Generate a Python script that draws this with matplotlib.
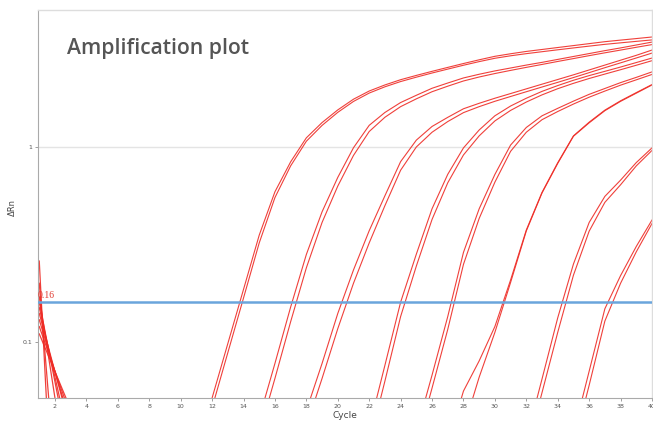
import numpy as np
import matplotlib.pyplot as plt

# Amplification curves (delta Rn per cycle), two replicates per dilution
g1_start = 11
g1_rep1 = [0.0275, 0.0516, 0.098, 0.186, 0.353, 0.589, 0.839, 1.114, 1.334, 1.549,
           1.758, 1.936, 2.080, 2.213, 2.328, 2.443, 2.559, 2.679, 2.799, 2.917,
           3.006, 3.090, 3.162, 3.236, 3.311, 3.388, 3.467, 3.532, 3.597, 3.664]
g1_rep2 = [0.025, 0.046, 0.088, 0.168, 0.322, 0.550, 0.800, 1.070, 1.290, 1.505,
           1.712, 1.890, 2.035, 2.165, 2.280, 2.395, 2.508, 2.625, 2.740, 2.850,
           2.935, 3.010, 3.080, 3.150, 3.220, 3.290, 3.360, 3.420, 3.480, 3.540]

g2_start = 14
g2_rep1 = [0.0209, 0.0407, 0.0776, 0.151, 0.281, 0.465, 0.698, 0.991, 1.291, 1.503,
           1.690, 1.841, 2.000, 2.128, 2.259, 2.360, 2.455, 2.541, 2.630, 2.716,
           2.812, 2.911, 3.013, 3.119, 3.221, 3.334, 3.451]
g2_rep2 = [0.0175, 0.034, 0.065, 0.127, 0.240, 0.410, 0.630, 0.905, 1.200, 1.420,
           1.610, 1.765, 1.920, 2.050, 2.180, 2.285, 2.380, 2.470, 2.560, 2.650,
           2.745, 2.840, 2.940, 3.040, 3.140, 3.245, 3.350]

g3_start = 17
g3_rep1 = [0.0257, 0.0445, 0.0776, 0.140, 0.234, 0.372, 0.562, 0.841, 1.084, 1.274,
           1.419, 1.570, 1.675, 1.778, 1.879, 1.986, 2.099, 2.218, 2.344, 2.483,
           2.630, 2.786, 2.951, 3.141]
g3_rep2 = [0.0215, 0.037, 0.065, 0.117, 0.200, 0.322, 0.500, 0.760, 1.000, 1.190,
           1.350, 1.500, 1.610, 1.715, 1.815, 1.920, 2.030, 2.145, 2.270, 2.405,
           2.550, 2.700, 2.860, 3.030]

g4_start = 21
g4_rep1 = [0.0178, 0.0363, 0.0759, 0.160, 0.282, 0.482, 0.724, 0.989, 1.222, 1.445,
           1.622, 1.778, 1.928, 2.065, 2.198, 2.323, 2.443, 2.570, 2.710, 2.858]
g4_rep2 = [0.015, 0.030, 0.063, 0.135, 0.245, 0.425, 0.655, 0.910, 1.140, 1.360,
           1.540, 1.700, 1.850, 1.990, 2.120, 2.245, 2.365, 2.490, 2.625, 2.770]

g5_start = 24
g5_rep1 = [0.0178, 0.0347, 0.0676, 0.135, 0.288, 0.482, 0.723, 1.023, 1.259, 1.445,
           1.578, 1.718, 1.862, 1.995, 2.138, 2.275, 2.427]
g5_rep2 = [0.015, 0.0295, 0.058, 0.116, 0.250, 0.430, 0.660, 0.950, 1.190, 1.380,
           1.520, 1.660, 1.800, 1.935, 2.075, 2.210, 2.355]

g6_start = 27
g6_rep1 = [0.0166, 0.036, 0.066, 0.112, 0.202, 0.371, 0.581, 0.824, 1.135, 1.330,
           1.535, 1.714, 1.888, 2.080]
g6_rep2 = [0.030, 0.056, 0.080, 0.120, 0.208, 0.375, 0.585, 0.830, 1.140, 1.340,
           1.545, 1.725, 1.900, 2.090]

g7_start = 31
g7_rep1 = [0.0148, 0.0316, 0.0646, 0.133, 0.251, 0.410, 0.558, 0.676, 0.832, 0.989]
g7_rep2 = [0.0125, 0.027, 0.055, 0.112, 0.220, 0.370, 0.520, 0.640, 0.800, 0.960]

g8_start = 34
g8_rep1 = [0.0148, 0.0339, 0.0708, 0.148, 0.219, 0.309, 0.422]
g8_rep2 = [0.0125, 0.029, 0.060, 0.128, 0.200, 0.290, 0.405]

# early-cycle baseline noise (cycles 1-3)
noise_traces = [
    [0.26, 0.0072, 0.002],
    [0.20, 0.021, 0.003],
    [0.17, 0.0516, 0.0157],
    [0.16, 0.0624, 0.0243],
    [0.15, 0.066, 0.029],
    [0.14, 0.0703, 0.0353],
    [0.13, 0.0703, 0.038],
    [0.12, 0.0708, 0.0418],
    [0.11, 0.0705, 0.0452],
]

threshold = 0.16
threshold_label = '0.16'
x_ticks = list(range(2, 41, 2))
y_ticks = [0.1, 1]

traces = [
    (g1_start, g1_rep1), (g1_start, g1_rep2),
    (g2_start, g2_rep1), (g2_start, g2_rep2),
    (g3_start, g3_rep1), (g3_start, g3_rep2),
    (g4_start, g4_rep1), (g4_start, g4_rep2),
    (g5_start, g5_rep1), (g5_start, g5_rep2),
    (g6_start, g6_rep1), (g6_start, g6_rep2),
    (g7_start, g7_rep1), (g7_start, g7_rep2),
    (g8_start, g8_rep1), (g8_start, g8_rep2),
]

red = '#ee2b25'

fig = plt.figure(figsize=(6.53, 4.26), dpi=100)
ax = fig.add_axes([38 / 653, 1 - 398 / 426, 614 / 653, 388 / 426])

ax.set_yscale('log')
ax.set_xlim(0.92, 40.0)
ax.set_ylim(0.0516, 5.04)

for yt in y_ticks[1:]:
    ax.axhline(yt, color='#e4e4e4', lw=1.0, zorder=0)

for start, vals in traces:
    cyc = np.arange(start, start + len(vals))
    ax.plot(cyc, vals, color=red, lw=0.8, alpha=0.9, solid_joinstyle='round')

for vals in noise_traces:
    ax.plot(np.arange(1, 1 + len(vals)), vals, color=red, lw=0.9, alpha=0.9)

ax.axhline(threshold, color='#6aa5dc', lw=1.8, zorder=3)
ax.annotate(threshold_label, xy=(0, threshold), xycoords=('axes fraction', 'data'),
            xytext=(0, 1.5), textcoords='offset points', color='#e03a30',
            fontsize=7, family='Liberation Serif', va='bottom', ha='left')

ax.set_xticks(x_ticks)
ax.set_xticklabels([str(t) for t in x_ticks])
ax.set_yticks(y_ticks)
ax.set_yticklabels(['0.1', '1'])
ax.yaxis.set_minor_locator(plt.NullLocator())
ax.tick_params(axis='both', which='major', labelsize=4.5, colors='#777777',
               length=2, width=0.5, pad=2)
ax.tick_params(axis='both', labelcolor='#555555')

for side in ['top', 'right']:
    ax.spines[side].set_color('#dddddd')
    ax.spines[side].set_linewidth(1.0)
for side in ['left', 'bottom']:
    ax.spines[side].set_color('#aaaaaa')
    ax.spines[side].set_linewidth(0.8)

ax.set_xlabel('Cycle', fontsize=6.5, color='#444444', labelpad=2)
fig.text(12 / 653, 1 - 208 / 426, 'ΔRn', rotation=90, fontsize=6,
         color='#444444', ha='center', va='center')

ax.text(0.047, 0.9, 'Amplification plot', transform=ax.transAxes,
        fontsize=15.2, color='#555555', family='Open Sans', weight='semibold',
        ha='left', va='center')

fig.savefig('out.png', dpi=100)
